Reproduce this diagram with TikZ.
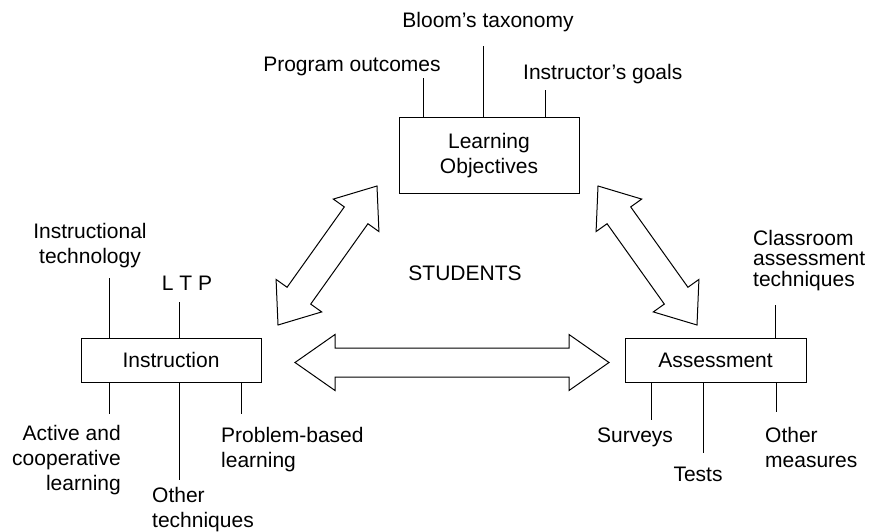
\documentclass[tikz,border=0pt]{standalone}
\usepackage{fontspec}
\setmainfont{Liberation Sans}
\usetikzlibrary{calc}

\tikzset{
  boxnode/.style={draw,line width=1pt,align=center,minimum width=180pt,minimum height=44pt,inner sep=0pt},
  txtnode/.style={inner sep=0pt},
  stem/.style={line width=1pt},
  blockarrow/.style={draw,line width=1pt,line join=miter}
}

\newcommand{\DblArrow}[3][36pt]{%
  \draw[blockarrow] (#2)
    -- ($(#2)!#1!(#3)!28pt!90:(#3)$) -- ($(#2)!#1!(#3)!14.5pt!90:(#3)$)
    -- ($(#3)!#1!(#2)!14.5pt!-90:(#2)$) -- ($(#3)!#1!(#2)!28pt!-90:(#2)$)
    -- (#3)
    -- ($(#3)!#1!(#2)!28pt!90:(#2)$) -- ($(#3)!#1!(#2)!14.5pt!90:(#2)$)
    -- ($(#2)!#1!(#3)!14.5pt!-90:(#3)$) -- ($(#2)!#1!(#3)!28pt!-90:(#3)$)
    -- cycle;}

\begin{document}
\begin{tikzpicture}[x=1pt,y=-1pt,font=\fontsize{21}{25}\selectfont]
\useasboundingbox (0,0) rectangle (869,532);

\node[boxnode,minimum height=75pt] (lo) at (489,155.5) {Learning\\Objectives};
\node[boxnode] (instr) at (171,360) {Instruction};
\node[boxnode,minimum width=181pt] (assess) at (715.5,360) {Assessment};

\node[txtnode] (bloom) at (488,22) {Bloom's taxonomy};
\node[txtnode] (prog) at (352,66) {Program outcomes};
\node[txtnode,anchor=west] (goals) at (523,74) {Instructor's goals};

\node[txtnode,align=center] (tech) at (90,245.5) {Instructional\\technology};
\node[txtnode] (ltp) at (187,283) {L T P};
\node[txtnode,align=right,anchor=east] (active) at (121,460) {Active and\\cooperative\\learning};
\node[txtnode,align=left,anchor=west] (other) at (152,509.5) {Other\\techniques};
\node[txtnode,align=left,anchor=west] (pbl) at (221,449.5) {Problem-based\\learning};

\node[txtnode] (stud) at (465,273) {STUDENTS};

\node[txtnode,align=left,anchor=west,font=\fontsize{21}{20.5}\selectfont] (cat) at (753,260.5) {Classroom\\assessment\\techniques};
\node[txtnode] (surv) at (635,437) {Surveys};
\node[txtnode] (tests) at (698,474) {Tests};
\node[txtnode,align=left,anchor=west] (omeas) at (765,447.5) {Other\\measures};

\coordinate (po) at (423,78);
\coordinate (bt) at (483,46);
\coordinate (ig) at (545,90);
\coordinate (it) at (109,278);
\coordinate (lt) at (179,302);
\coordinate (ac) at (109,414);
\coordinate (ot) at (179,480);
\coordinate (pb) at (241,414);
\coordinate (ca) at (775,305);
\coordinate (sv) at (651,420);
\coordinate (ts) at (703,453);
\coordinate (om) at (776,412);

\foreach \p in {po,bt,ig} \draw[stem] (lo.north -| \p) -- (\p);
\foreach \p in {it,lt} \draw[stem] (instr.north -| \p) -- (\p);
\foreach \p in {ac,ot,pb} \draw[stem] (instr.south -| \p) -- (\p);
\draw[stem] (assess.north -| ca) -- (ca);
\foreach \p in {sv,ts,om} \draw[stem] (assess.south -| \p) -- (\p);

\coordinate (la1) at (278,325);
\coordinate (la2) at (377,186);
\coordinate (ra1) at (697,325);
\coordinate (ra2) at (598,186);
\coordinate (ha1) at (295,362.5);
\coordinate (ha2) at (609,362.5);

\DblArrow{la1}{la2}
\DblArrow{ra1}{ra2}
\DblArrow[40pt]{ha1}{ha2}

\end{tikzpicture}
\end{document}
